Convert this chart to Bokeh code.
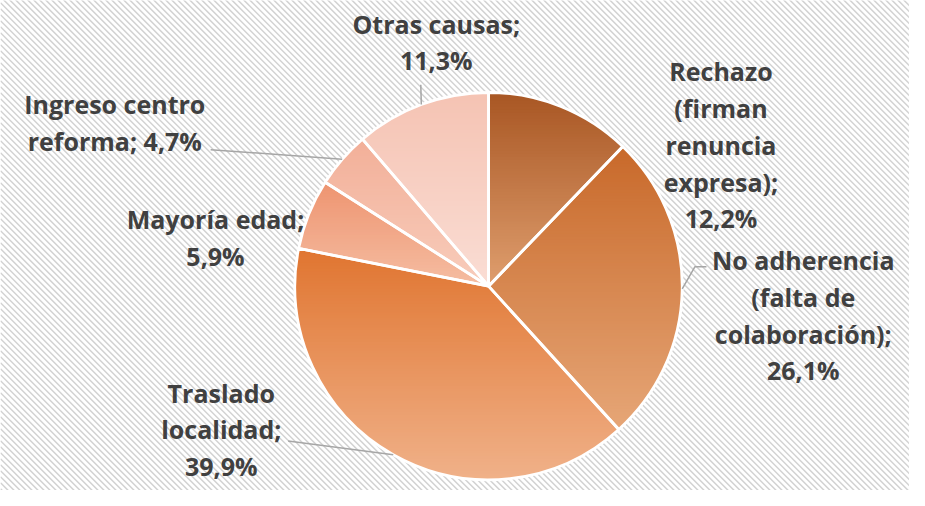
import numpy as np
from bokeh.plotting import figure
from bokeh.models import Range1d, ColumnDataSource
from bokeh.core.properties import value
from bokeh.embed import file_html
from bokeh.resources import INLINE

# ---------------- data ----------------
categories = [
    "Rechazo (firman renuncia expresa)",
    "No adherencia (falta de colaboración)",
    "Traslado localidad",
    "Mayoría edad",
    "Ingreso centro reforma",
    "Otras causas",
]
shares = [12.2, 26.1, 39.9, 5.9, 4.7, 11.3]
label_texts = [
    "Rechazo\n(firman\nrenuncia\nexpresa);\n12,2%",
    "No adherencia\n(falta de\ncolaboración);\n26,1%",
    "Traslado\nlocalidad;\n39,9%",
    "Mayoría edad;\n5,9%",
    "Ingreso centro\nreforma; 4,7%",
    "Otras causas;\n11,3%",
]
# gradient colours (top -> bottom) per slice
top_colors = ["#A85623", "#C8692A", "#E07530", "#EE9470", "#F2AF98", "#F5C3B3"]
bottom_colors = ["#DF9E6E", "#E6A677", "#F0B189", "#F5BDA2", "#F8CDBC", "#FADDD4"]
mid_colors = ["#C47A48", "#D78850", "#E8935C", "#F2A888", "#F5BEAA", "#F8D0C4"]

# ---------------- layout (reference pixel space, uniformly scaled to fit) ----------------
W, H = 909, 490
S = H / 506.0
X0 = -7.0

def Y(ypix):
    return 506 - ypix

cx, cy, R = 497, Y(295), 200
label_pos = [(737, Y(149)), (822, Y(325)), (221, Y(443)), (215, Y(245)), (111, Y(126)), (443, Y(43))]
leader_outer = [None, [(710, Y(275)), (722, Y(275))], [(290, Y(455))], None, [(210, Y(154))], [(427, Y(87))]]

# ---------------- angles ----------------
total = sum(shares)
fr = np.array(shares) / total
ends = np.pi / 2 - 2 * np.pi * np.cumsum(fr)
starts = np.concatenate([[np.pi / 2], ends[:-1]])
mids = (starts + ends) / 2

p = figure(width=W, height=H, output_backend="svg", toolbar_location=None,
           x_range=Range1d(X0, X0 + W / S), y_range=Range1d(0, 506), min_border=0)
p.axis.visible = False
p.grid.visible = False
p.outline_line_color = None
p.background_fill_color = "white"
p.border_fill_color = "white"

# diagonal striped background ("\" direction)
xa, xb = X0, X0 + W / S
step = 6.0 / S
sx, sy = [], []
c = -600.0
while c < 1600:
    sx.append([xa, xb])
    sy.append([-xa + c, -xb + c])
    c += step
p.multi_line(xs=sx, ys=sy, line_color="#D2D2D2", line_width=1.5)

# base wedges
src = ColumnDataSource(dict(cat=categories, share=shares, start=starts, end=ends, color=mid_colors))
p.wedge(x=cx, y=cy, radius=R, start_angle="start", end_angle="end", direction="clock",
        fill_color="color", line_color=None, source=src)

# vertical gradient overlay: clip each wedge into thin horizontal bands
def hex2rgb(h):
    h = h.lstrip("#")
    return np.array([int(h[i:i + 2], 16) for i in (0, 2, 4)], dtype=float)

def rgb2hex(col):
    return "#%02x%02x%02x" % tuple(int(round(v)) for v in col)

def clip(poly, yv, keep_above):
    out = []
    n = len(poly)
    for i in range(n):
        a, b = poly[i], poly[(i + 1) % n]
        ina = a[1] >= yv if keep_above else a[1] <= yv
        inb = b[1] >= yv if keep_above else b[1] <= yv
        if ina:
            out.append(a)
        if ina != inb:
            t = (yv - a[1]) / (b[1] - a[1])
            out.append((a[0] + t * (b[0] - a[0]), yv))
    return out

bx, by, bc = [], [], []
for i in range(len(shares)):
    th = np.linspace(starts[i], ends[i], 200)
    poly = [(cx, cy)] + [(cx + R * np.cos(t), cy + R * np.sin(t)) for t in th]
    ys = [q[1] for q in poly]
    ymin, ymax = min(ys), max(ys)
    c0, c1 = hex2rgb(top_colors[i]), hex2rgb(bottom_colors[i])
    nb = max(8, int((ymax - ymin) / 3))
    edges = np.linspace(ymax, ymin, nb + 1)
    for k in range(nb):
        hi, lo = edges[k], edges[k + 1]
        q = clip(clip(poly, lo - 0.4, True), hi + 0.4, False)
        if len(q) < 3:
            continue
        t = (k + 0.5) / nb
        bx.append([v[0] for v in q])
        by.append([v[1] for v in q])
        bc.append(rgb2hex(c0 + (c1 - c0) * t))
p.patches(xs=bx, ys=by, fill_color=bc, line_color=None)

# white borders (slices and outer rim)
p.wedge(x=cx, y=cy, radius=R, start_angle="start", end_angle="end", direction="clock",
        fill_color=None, line_color="white", line_width=2.8, source=src)

# leader lines
lx, ly = [], []
for i, outer in enumerate(leader_outer):
    if outer is None:
        continue
    pts = [(cx + R * np.cos(mids[i]), cy + R * np.sin(mids[i]))] + outer
    lx.append([v[0] for v in pts])
    ly.append([v[1] for v in pts])
p.multi_line(xs=lx, ys=ly, line_color="#A6A6A6", line_width=1.5)

# labels
p.text(x=[q[0] for q in label_pos], y=[q[1] for q in label_pos], text=label_texts,
       text_font=value("Open Sans"), text_font_style="bold", text_font_size="25px",
       text_color="#404040", text_align="center", text_baseline="middle",
       text_line_height=1.08)

open("out.html", "w").write(file_html(p, INLINE))
